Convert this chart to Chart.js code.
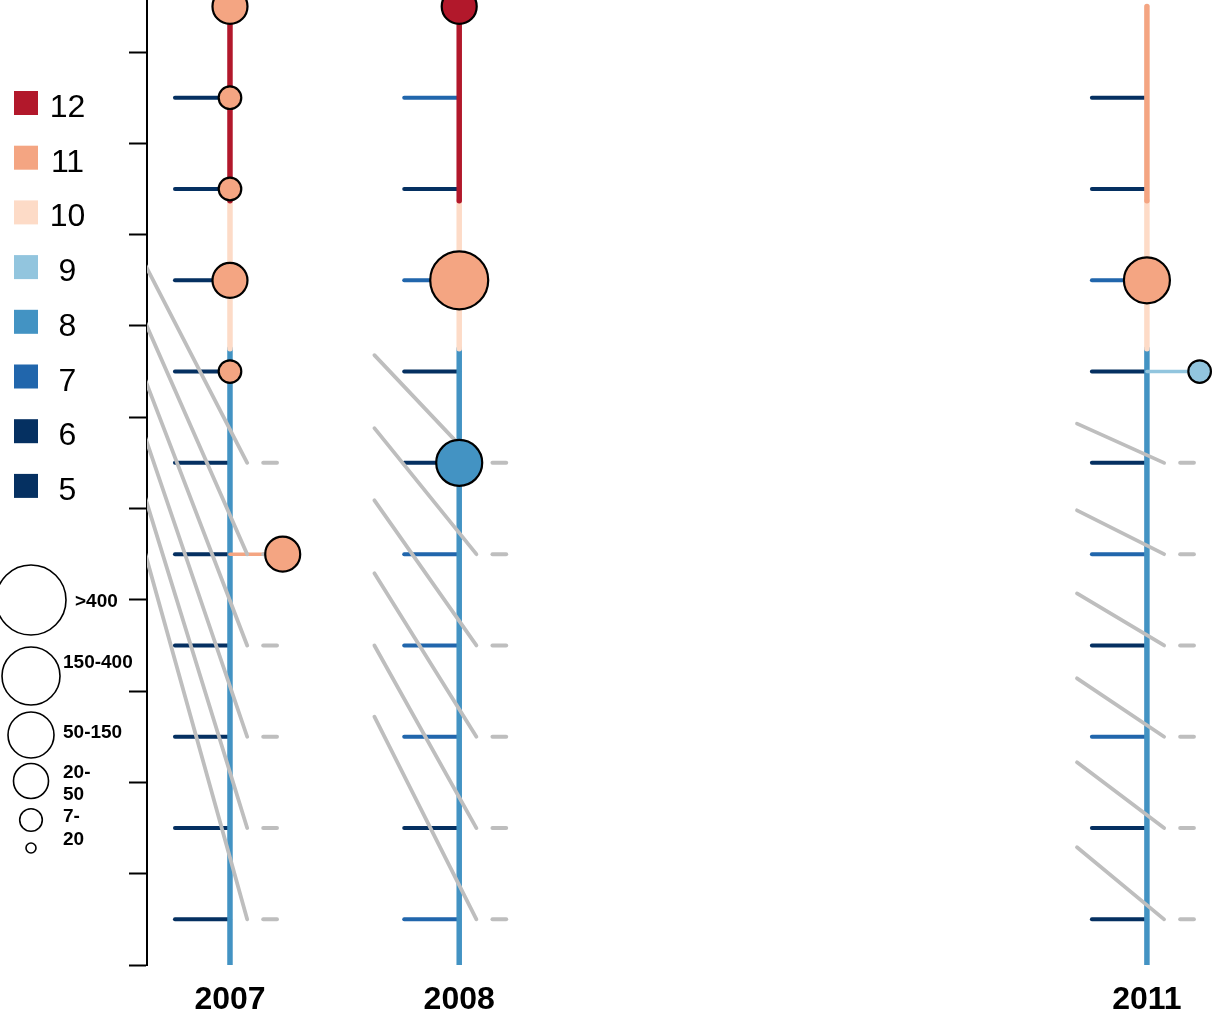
<!DOCTYPE html>
<html>
<head>
<meta charset="utf-8">
<script src="https://cdn.jsdelivr.net/npm/chart.js@4.4.0/dist/chart.umd.min.js"></script>
<style>
  html, body { margin: 0; padding: 0; background: #fff; }
</style>
</head>
<body>
<canvas id="grades" width="1215" height="1024"></canvas>
<script>
// columns along the bottom
const years = [2007, 2008, 2011];
const yTicks = [0, 1, 2, 3, 4, 5, 6, 7, 8, 9, 10];

// rungs of each ladder, bottom to top, and the grade of each rung
const rungRows = [0.5, 1.5, 2.5, 3.5, 4.5, 5.5, 6.5, 7.5, 8.5, 9.5];
const rungGrades2007 = [6, 6, 6, 6, 6, 6, 6, 6, 6, 6];
const rungGrades2008 = [7, 6, 7, 7, 7, 6, 6, 7, 6, 7];
const rungGrades2011 = [6, 6, 7, 6, 7, 6, 6, 7, 6, 6];

// spine pieces between these breaks, with their grade
const spineBreaks = [0, 6.75, 8.37, 10.5];
const spineGrades2007 = [8, 10, 12];
const spineGrades2008 = [8, 10, 12];
const spineGrades2011 = [8, 10, 11];

// grey links coming in from the previous column
const linkRows = [5.5, 4.5, 3.5, 2.5, 1.5, 0.5];
const linkStart = [2006.63, 2007.63, 2010.695];
const linkFrom2007 = [7.67, 7.04, 6.41, 5.78, 5.12, 4.51];
const linkFrom2008 = [6.68, 5.88, 5.09, 4.29, 3.50, 2.72];
const linkFrom2011 = [5.93, 4.98, 4.07, 3.14, 2.22, 1.29];

// dots: year, row, enrolment band, grade
const dots = [
  [2007, 10.5, '20-50', 11],
  [2007, 9.5, '7-20', 11],
  [2007, 8.5, '7-20', 11],
  [2007, 7.5, '20-50', 11],
  [2007, 6.5, '7-20', 11],
  [2007.23, 4.5, '20-50', 11],
  [2008, 10.5, '20-50', 12],
  [2008, 7.5, '150-400', 11],
  [2008, 5.5, '50-150', 8],
  [2011, 7.5, '50-150', 11],
  [2011.23, 6.5, '7-20', 9]
];

// legend entries
const gradeLevels = [12, 11, 10, 9, 8, 7, 6, 5];
const sizeBands = ['>400', '150-400', '50-150', '20-50', '7-20', '<7'];
const sizeBandLabels = [['>400'], ['150-400'], ['50-150'], ['20-', '50'], ['7-', '20'], []];

const gradeColors = {
  12: '#b2182b', 11: '#f4a582', 10: '#fddbc7', 9: '#92c5de',
  8: '#4393c3', 7: '#2166ac', 6: '#053061', 5: '#053061'
};
const bandRadius = {
  '>400': 35, '150-400': 29, '50-150': 23, '20-50': 17.5, '7-20': 11.3, '<7': 5
};
const GREY = '#bebebe';
const FONT = '"Liberation Sans", Arial, Helvetica, sans-serif';

const rungGrades = [rungGrades2007, rungGrades2008, rungGrades2011];
const spineGrades = [spineGrades2007, spineGrades2008, spineGrades2011];
const linkFrom = [linkFrom2007, linkFrom2008, linkFrom2011];

const datasets = [];
function segment(x0, y0, x1, y1, color, width, order) {
  datasets.push({
    data: [{ x: x0, y: y0 }, { x: x1, y: y1 }],
    borderColor: color,
    borderWidth: width,
    borderCapStyle: 'round',
    pointRadius: 0,
    fill: false,
    order: order
  });
}

years.forEach((yr, i) => {
  rungRows.forEach((r, j) => segment(yr - 0.24, r, yr, r, gradeColors[rungGrades[i][j]], 4, 4));
  // top piece first so it sits over the one below
  for (let k = spineGrades[i].length - 1; k >= 0; k--) {
    segment(yr, spineBreaks[k], yr, spineBreaks[k + 1], gradeColors[spineGrades[i][k]], 5.5, 3);
  }
  linkRows.forEach((r, j) => {
    segment(linkStart[i], linkFrom[i][j], yr + 0.075, r, GREY, 3.8, 1);
    segment(yr + 0.145, r, yr + 0.205, r, GREY, 4, 1);
  });
});

// short stems out to dots that sit beside the spine
dots.forEach(d => {
  if (!years.includes(d[0])) segment(Math.floor(d[0]), d[1], d[0], d[1], gradeColors[d[3]], 3.5, 2);
});

datasets.push({
  data: dots.map(d => ({ x: d[0], y: d[1] })),
  showLine: false,
  pointRadius: dots.map(d => bandRadius[d[2]]),
  pointHoverRadius: dots.map(d => bandRadius[d[2]]),
  pointBackgroundColor: dots.map(d => gradeColors[d[3]]),
  pointBorderColor: '#000',
  pointBorderWidth: 2.2,
  clip: false,
  order: 0
});

// colour key and size key on the left
const sideLegend = {
  id: 'sideLegend',
  afterDraw(chart) {
    const ctx = chart.ctx;
    ctx.save();
    ctx.font = '32px ' + FONT;
    ctx.textAlign = 'center';
    ctx.textBaseline = 'alphabetic';
    gradeLevels.forEach((g, i) => {
      const cy = 103 + i * 54.7;
      ctx.fillStyle = gradeColors[g];
      ctx.fillRect(14, cy - 12, 24, 24);
      ctx.fillStyle = '#000';
      ctx.fillText(String(g), 67.5, cy + 14);
    });

    const centres = [600, 676, 735, 781, 820, 848];
    const labelX = [75, 63, 63, 63, 63, 63];
    const baselines = [[607], [668], [738], [778, 800], [822, 845], []];
    ctx.strokeStyle = '#000';
    ctx.lineWidth = 1.6;
    ctx.font = 'bold 19px ' + FONT;
    ctx.textAlign = 'left';
    sizeBands.forEach((b, i) => {
      ctx.beginPath();
      ctx.arc(31, centres[i], bandRadius[b], 0, Math.PI * 2);
      ctx.stroke();
      sizeBandLabels[i].forEach((t, k) => ctx.fillText(t, labelX[i], baselines[i][k]));
    });
    ctx.restore();
  }
};

new Chart(document.getElementById('grades'), {
  type: 'line',
  data: { datasets: datasets },
  options: {
    responsive: false,
    animation: false,
    events: [],
    layout: { autoPadding: false, padding: { left: 129, top: 0, right: 0, bottom: 0 } },
    plugins: { legend: { display: false }, tooltip: { enabled: false } },
    scales: {
      x: {
        type: 'linear',
        min: 2006.638,
        max: 2011.297,
        afterBuildTicks: (scale) => { scale.ticks = years.map(v => ({ value: v })); },
        afterFit: (scale) => { scale.height = 59; },
        ticks: {
          autoSkip: false,
          maxRotation: 0,
          padding: 16,
          color: '#000',
          font: { family: FONT, size: 32, weight: 'bold' },
          callback: (v) => String(v)
        },
        grid: { display: false, drawTicks: false },
        border: { display: false }
      },
      y: {
        type: 'linear',
        min: 0,
        max: 10.57,
        afterBuildTicks: (scale) => { scale.ticks = yTicks.map(v => ({ value: v })); },
        afterFit: (scale) => { scale.width = 18; },
        ticks: { display: false },
        grid: {
          drawOnChartArea: false,
          drawTicks: true,
          tickLength: 18,
          tickColor: '#000',
          tickWidth: 2
        },
        border: { display: true, color: '#000', width: 2 }
      }
    }
  },
  plugins: [sideLegend]
});
</script>
</body>
</html>
